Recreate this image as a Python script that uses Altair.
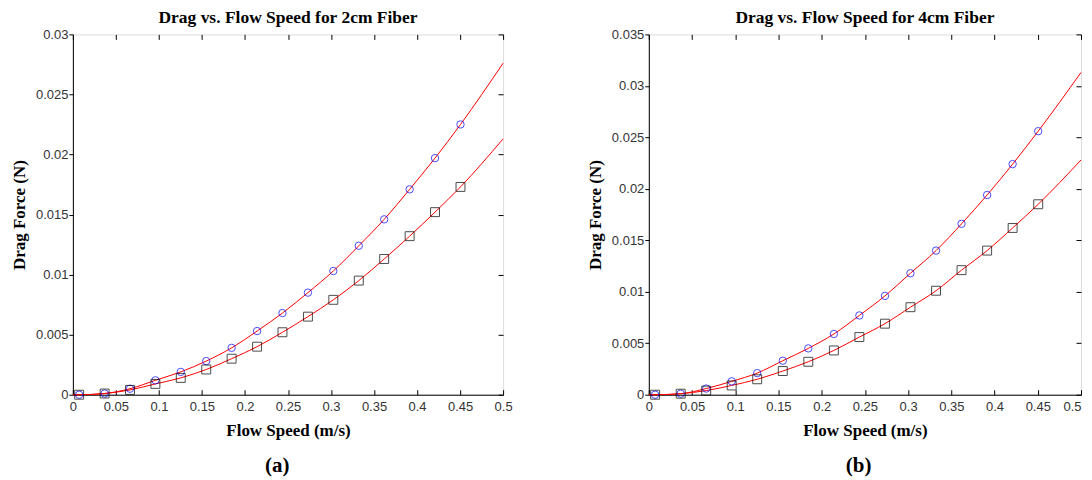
import altair as alt
import pandas as pd

# Flow speed of the measured points (m/s)
speed = [0.0073, 0.0369, 0.0664, 0.0959, 0.1254, 0.1550, 0.1845, 0.2141,
         0.2436, 0.2732, 0.3027, 0.3323, 0.3618, 0.3914, 0.4209, 0.4505]

# Panel (a) 2cm fiber
circ_a = [0.0000, 0.0001, 0.0005, 0.0012, 0.0019, 0.0028, 0.0039, 0.0053,
          0.0068, 0.0085, 0.0103, 0.0124, 0.0146, 0.0171, 0.0197, 0.0225]
sq_a = [0.0000, 0.0001, 0.0004, 0.0009, 0.0014, 0.0021, 0.0030, 0.0040,
        0.0052, 0.0065, 0.0079, 0.0095, 0.0113, 0.0132, 0.0152, 0.0173]

# Panel (b) 4cm fiber
circ_b = [0.0000, 0.0001, 0.0006, 0.0013, 0.0021, 0.0033, 0.0045, 0.0059,
          0.0077, 0.0096, 0.0118, 0.0140, 0.0166, 0.0194, 0.0224, 0.0256]
sq_b = [0.0000, 0.0001, 0.0004, 0.0009, 0.0015, 0.0023, 0.0032, 0.0043,
        0.0056, 0.0069, 0.0085, 0.0101, 0.0121, 0.0140, 0.0162, 0.0185]

# fitted curves: start and end values
fit_start_speed = 0.0
fit_end_speed = 0.5
fit_end_a = [0.0276, 0.0213]
fit_end_b = [0.0313, 0.0228]

x_ticks = [0, 0.05, 0.1, 0.15, 0.2, 0.25, 0.3, 0.35, 0.4, 0.45, 0.5]
y_ticks_a = [0, 0.005, 0.01, 0.015, 0.02, 0.025, 0.03]
y_ticks_b = [0, 0.005, 0.01, 0.015, 0.02, 0.025, 0.03, 0.035]

LABEL_FONT = "Liberation Sans"
SERIF = "Liberation Serif"


def panel(circ, sq, fit_end, y_max, y_ticks, title, width, height, last_right):
    n = len(speed)
    pts = pd.DataFrame({
        "speed": speed + speed,
        "force": circ + sq,
        "series": ["circle"] * n + ["square"] * n,
    })
    fit = pd.DataFrame({
        "speed": [fit_start_speed] + speed + [fit_end_speed]
                 + [fit_start_speed] + speed + [fit_end_speed],
        "force": [0.0] + circ + [fit_end[0]] + [0.0] + sq + [fit_end[1]],
        "series": ["circle"] * (n + 2) + ["square"] * (n + 2),
    })
    xs = alt.Scale(domain=[0, 0.5], nice=False, zero=False)
    ys = alt.Scale(domain=[0, y_max], nice=False, zero=False)

    if last_right:
        x_align = {"condition": {"test": "datum.value >= 0.5", "value": "right"},
                   "value": "center"}
    else:
        x_align = "center"

    lines = alt.Chart(fit).mark_line(
        color="#ff0000", strokeWidth=1, interpolate="monotone"
    ).encode(
        x=alt.X("speed:Q", scale=xs, axis=alt.Axis(
            orient="bottom", values=x_ticks, format="~g", ticks=False, tickSize=0,
            labelPadding=6, labelFont=LABEL_FONT, labelFontSize=13,
            labelAlign=x_align,
            labelColor="#333333", domainColor="black", grid=False,
            title="Flow Speed (m/s)", titleFont=SERIF, titleFontSize=17,
            titleFontWeight="bold", titleColor="black", titlePadding=9)),
        y=alt.Y("force:Q", scale=ys, axis=alt.Axis(
            orient="left", values=y_ticks, format="~g", tickSize=4,
            tickColor="black", labelPadding=1, labelFont=LABEL_FONT,
            labelFontSize=13, labelColor="#333333", domainColor="black",
            grid=False, title="Drag Force (N)", titleFont=SERIF,
            titleFontSize=17, titleFontWeight="bold", titleColor="black",
            titlePadding=7)),
        detail="series:N",
    )

    circles = alt.Chart(pts).transform_filter(
        alt.datum.series == "circle"
    ).mark_point(
        shape="circle", filled=False, color="#0000ff", size=55, strokeWidth=1
    ).encode(
        x=alt.X("speed:Q", scale=xs, axis=alt.Axis(
            orient="bottom", offset=-5, tickSize=5, tickColor="black",
            values=x_ticks, labels=False, domain=False, grid=False, title=None)),
        y=alt.Y("force:Q", scale=ys, axis=alt.Axis(
            orient="right", offset=-5, tickSize=5, tickColor="black",
            values=y_ticks, labels=False, domain=False, grid=False, title=None)),
    )

    squares = alt.Chart(pts).transform_filter(
        alt.datum.series == "square"
    ).mark_point(
        shape="square", filled=False, color="black", size=80, strokeWidth=1
    ).encode(
        x=alt.X("speed:Q", scale=xs, axis=alt.Axis(
            orient="top", offset=-5, tickSize=5, tickColor="black",
            values=x_ticks, labels=False, domain=False, grid=False, title=None)),
        y=alt.Y("force:Q", scale=ys, axis=None),
    )

    return alt.layer(lines, circles, squares).resolve_axis(
        x="independent", y="independent"
    ).properties(
        width=width, height=height,
        title=alt.TitleParams(title, font=SERIF, fontSize=17.5,
                              fontWeight="bold", color="black", offset=2,
                              anchor="middle"),
    )


pa = panel(circ_a, sq_a, fit_end_a, 0.03, y_ticks_a,
           "Drag vs. Flow Speed for 2cm Fiber", 431, 361, False)
pb = panel(circ_b, sq_b, fit_end_b, 0.035, y_ticks_b,
           "Drag vs. Flow Speed for 4cm Fiber", 433, 361, True)


def wrap(p, label, dx):
    return alt.vconcat(p, title=alt.TitleParams(
        label, orient="bottom", anchor="middle", frame="bounds", font=SERIF,
        fontSize=21, fontWeight="bold", color="black", offset=16, dx=dx))


chart = alt.hconcat(wrap(pa, "(a)", 16), wrap(pb, "(b)", 24), spacing=72).properties(
    padding={"left": 1, "top": 0, "right": 0, "bottom": 0}
).configure_view(
    stroke="black", strokeWidth=1
).configure(background="white")

chart.save("out.html", embed_options={"renderer": "svg", "actions": False})
